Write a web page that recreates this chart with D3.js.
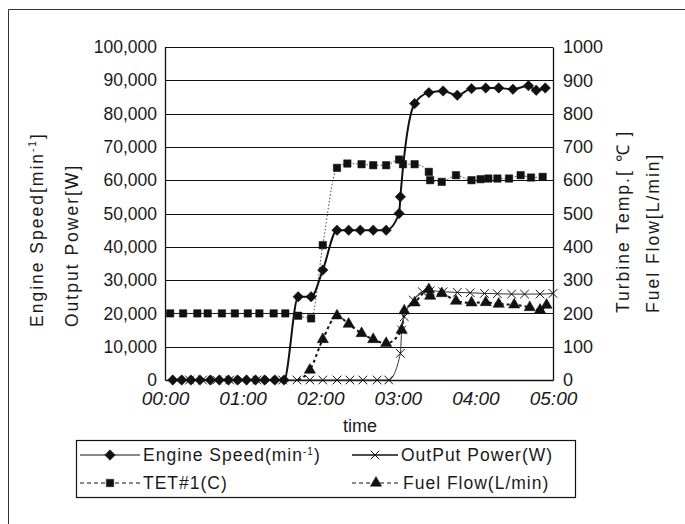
<!DOCTYPE html>
<html>
<head>
<meta charset="utf-8">
<script src="https://cdn.jsdelivr.net/npm/d3@7"></script>
<style>
  body { margin: 0; background: #fff; }
  svg { display: block; }
  text { font-family: "Liberation Sans", Arial, sans-serif; fill: #1a1a1a; }
</style>
</head>
<body>
<svg id="chart" width="685" height="524"></svg>
<script>
// time in minutes from 00:00
let speedTime = [6, 13, 20, 27, 35, 42, 49, 56, 63, 70, 77, 85, 92, 103, 113, 122, 133, 142, 151, 161, 171, 181, 182, 193, 204, 215, 226, 237, 248, 258, 269, 281, 287, 294];
let speedValue = [0, 0, 0, 0, 0, 0, 0, 0, 0, 0, 0, 0, 0, 25000, 25000, 33000, 45000, 45000, 45000, 45000, 45000, 50000, 55000, 83000, 86300, 86800, 85500, 87500, 87700, 87700, 87300, 88400, 87000, 87700];

let powerTime = [9, 19, 29, 40, 50, 60, 71, 81, 91, 102, 112, 122, 133, 143, 153, 164, 173, 182, 183, 185, 192, 199, 205, 215, 226, 236, 247, 257, 268, 278, 290, 300];
let powerValue = [0, 0, 0, 0, 0, 0, 0, 0, 0, 0, 0, 0, 0, 0, 0, 0, 0, 8000, 15000, 19000, 24000, 26500, 26800, 26500, 26300, 26200, 26000, 25900, 25800, 25800, 25800, 26000];

let tetTime = [4, 14, 25, 33, 44, 54, 64, 73, 84, 93, 103, 113, 122, 133, 141, 152, 161, 171, 181, 184, 193, 204, 205, 214, 225, 237, 244, 250, 257, 266, 275, 283, 292];
let tetValue = [200, 200, 200, 200, 200, 200, 200, 200, 200, 200, 193, 185, 405, 637, 650, 648, 645, 645, 662, 648, 648, 625, 600, 595, 615, 600, 603, 605, 605, 605, 615, 608, 610];

let fuelTime = [103, 112, 122, 133, 142, 152, 161, 171, 183, 185, 193, 204, 205, 214, 225, 237, 248, 258, 270, 282, 290, 295];
let fuelValue = [0, 30, 122, 193, 168, 140, 122, 110, 150, 208, 232, 272, 252, 260, 237, 232, 233, 228, 226, 218, 210, 225];

let leftTicks = [0, 10000, 20000, 30000, 40000, 50000, 60000, 70000, 80000, 90000, 100000];
let rightTicks = [0, 100, 200, 300, 400, 500, 600, 700, 800, 900, 1000];
let timeTicks = [0, 60, 120, 180, 240, 300];
let timeLabels = ["00:00", "01:00", "02:00", "03:00", "04:00", "05:00"];

let svg = d3.select("#chart");

let plotLeft = 165, plotRight = 553, plotTop = 47, plotBottom = 380;

let x = d3.scaleLinear().domain([0, 300]).range([plotLeft, plotRight]);
let yLeft = d3.scaleLinear().domain([0, 100000]).range([plotBottom, plotTop]);
let yRight = d3.scaleLinear().domain([0, 1000]).range([plotBottom, plotTop]);

// outer frame (only left and top edges survive in the scan)
svg.append("path")
  .attr("d", "M8.5,524 L8.5,9.5 L685,9.5")
  .attr("fill", "none")
  .attr("stroke", "#333")
  .attr("stroke-width", 1);

// gridlines
svg.append("g")
  .selectAll("line")
  .data(leftTicks.slice(1))
  .enter()
  .append("line")
  .attr("x1", plotLeft)
  .attr("x2", plotRight)
  .attr("y1", (d) => Math.round(yLeft(d)) + 0.5)
  .attr("y2", (d) => Math.round(yLeft(d)) + 0.5)
  .attr("stroke", "#111")
  .attr("stroke-width", 1.2);

// axes
let leftAxis = svg.append("g")
  .attr("transform", "translate(" + plotLeft + ",0)")
  .call(d3.axisLeft(yLeft).tickValues(leftTicks).tickSize(0).tickPadding(8).tickFormat(d3.format(",")));

let rightAxis = svg.append("g")
  .attr("transform", "translate(" + plotRight + ",0)")
  .call(d3.axisRight(yRight).tickValues(rightTicks).tickSize(0).tickPadding(10).tickFormat(d3.format("d")));

let bottomAxis = svg.append("g")
  .attr("transform", "translate(0," + plotBottom + ")")
  .call(d3.axisBottom(x).tickValues(timeTicks).tickSize(0).tickPadding(12)
    .tickFormat((d, i) => timeLabels[i]));

[leftAxis, rightAxis, bottomAxis].forEach((a) => {
  a.select(".domain").attr("stroke", "#111").attr("stroke-width", 1.3);
  a.selectAll("text").attr("fill", "#1a1a1a").style("font-family", "'Liberation Sans', Arial, sans-serif");
});
leftAxis.selectAll("text").style("font-size", "17.5px");
rightAxis.selectAll("text").style("font-size", "18px");
bottomAxis.selectAll("text").style("font-size", "19px").style("font-style", "italic");

// axis titles
let titleSize = "17.5px";
let titleSpacing = "2px";
let leftTitle1 = svg.append("text")
  .attr("transform", "translate(43,327) rotate(-90)")
  .style("font-size", titleSize)
  .style("letter-spacing", titleSpacing);
leftTitle1.append("tspan").text("Engine Speed[min");
leftTitle1.append("tspan").attr("dy", -7).style("font-size", "10px").text("-1");
leftTitle1.append("tspan").attr("dy", 7).text("]");

svg.append("text")
  .attr("transform", "translate(78,327) rotate(-90)")
  .style("font-size", titleSize)
  .style("letter-spacing", titleSpacing)
  .text("Output Power[W]");

svg.append("text")
  .attr("transform", "translate(629,313) rotate(-90)")
  .style("font-size", titleSize)
  .style("letter-spacing", titleSpacing)
  .text("Turbine Temp.[ \u2103 ]");

svg.append("text")
  .attr("transform", "translate(659,313) rotate(-90)")
  .style("font-size", titleSize)
  .style("letter-spacing", titleSpacing)
  .text("Fuel Flow[L/min]");

svg.append("text")
  .attr("x", 360)
  .attr("y", 432)
  .attr("text-anchor", "middle")
  .style("font-size", "18px")
  .text("time");

// series lines
let smooth = d3.curveMonotoneX;

let speedPts = speedTime.map((t, i) => [x(t), yLeft(speedValue[i])]);
let powerPts = powerTime.map((t, i) => [x(t), yLeft(powerValue[i])]);
let tetPts = tetTime.map((t, i) => [x(t), yRight(tetValue[i])]);
let fuelPts = fuelTime.map((t, i) => [x(t), yRight(fuelValue[i])]);

let lineGen = d3.line().curve(smooth);

svg.append("path").attr("d", lineGen(tetPts))
  .attr("fill", "none").attr("stroke", "#444").attr("stroke-width", 1).attr("stroke-dasharray", "1.5,2");
svg.append("path").attr("d", lineGen(fuelPts))
  .attr("fill", "none").attr("stroke", "#111").attr("stroke-width", 2).attr("stroke-dasharray", "3,3");
svg.append("path").attr("d", lineGen(powerPts))
  .attr("fill", "none").attr("stroke", "#333").attr("stroke-width", 1);
svg.append("path").attr("d", lineGen(speedPts))
  .attr("fill", "none").attr("stroke", "#111").attr("stroke-width", 2);

// markers
let diamond = d3.symbol().type(d3.symbolDiamond2).size(70);
let square = d3.symbol().type(d3.symbolSquare).size(55);
let triangle = d3.symbol().type(d3.symbolTriangle).size(55);
let cross = d3.symbol().type(d3.symbolTimes).size(50);

let drawMarkers = (pts, sym, filled) => {
  svg.append("g")
    .selectAll("path")
    .data(pts)
    .enter()
    .append("path")
    .attr("transform", (p) => "translate(" + p[0] + "," + p[1] + ")")
    .attr("d", sym)
    .attr("fill", filled ? "#111" : "none")
    .attr("stroke", "#111")
    .attr("stroke-width", filled ? 0.5 : 1);
};

drawMarkers(powerPts, cross, false);
drawMarkers(fuelPts.slice(1), triangle, true);
drawMarkers(tetPts, square, true);
drawMarkers(speedPts, diamond, true);

// legend
let legend = svg.append("g");
legend.append("rect")
  .attr("x", 76.5).attr("y", 440.5)
  .attr("width", 499).attr("height", 57)
  .attr("fill", "#fff").attr("stroke", "#111").attr("stroke-width", 1.2);

let legendItems = [
  { label: "Engine Speed(min", sup: "-1", close: ")", x0: 80, x1: 140, y: 455, sym: diamond, dash: null, w: 1 },
  { label: "OutPut Power(W)", x0: 352, x1: 398, y: 455, sym: cross, dash: null, w: 1.5, open: true },
  { label: "TET#1(C)", x0: 80, x1: 140, y: 483, sym: square, dash: "4,3", w: 1 },
  { label: "Fuel Flow(L/min)", x0: 352, x1: 400, y: 483, sym: triangle, dash: "4,3", w: 1 }
];

legendItems.forEach((item) => {
  legend.append("line")
    .attr("x1", item.x0).attr("x2", item.x1)
    .attr("y1", item.y).attr("y2", item.y)
    .attr("stroke", "#111").attr("stroke-width", item.w)
    .attr("stroke-dasharray", item.dash);
  legend.append("path")
    .attr("transform", "translate(" + (item.x0 + item.x1) / 2 + "," + item.y + ")")
    .attr("d", item.sym)
    .attr("fill", item.open ? "none" : "#111")
    .attr("stroke", "#111")
    .attr("stroke-width", item.open ? 1 : 0.5);
  let t = legend.append("text")
    .attr("x", item.x1 + 3)
    .attr("y", item.y + 6)
    .style("font-size", "17.5px")
    .style("letter-spacing", "1px");
  t.append("tspan").text(item.label);
  if (item.sup) {
    t.append("tspan").attr("dy", -6).style("font-size", "10px").text(item.sup);
    t.append("tspan").attr("dy", 6).text(item.close);
  }
});
</script>
</body>
</html>
